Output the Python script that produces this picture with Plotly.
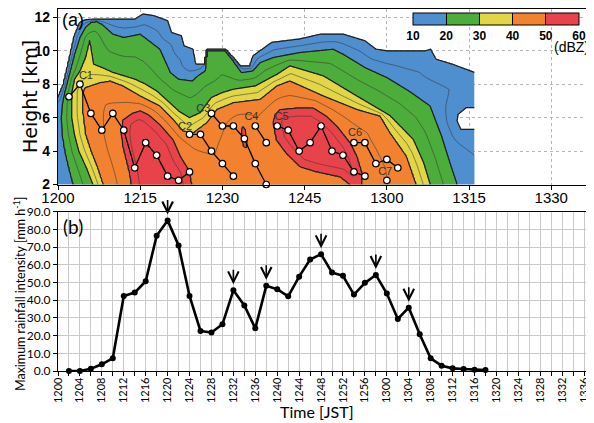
import numpy as np
import plotly.graph_objects as go

# ---------------- panel (a): reflectivity region outlines (time in min after 12:00, height km)
P10 = [(-10, -20), (-10, 7.2), (0, 7.2), (1, 8.0), (2, 9.4), (3, 10.9), (4, 11.7), (5, 11.85), (10, 11.9),
       (14, 11.9), (15.5, 12.2), (17.5, 12.1), (20, 11.8), (20.7, 11.1), (22.5, 10.9), (23, 10.3), (24.6, 10.1),
       (25.1, 9.2), (26.8, 9.2), (27.2, 10.1), (30.5, 10.1), (32.5, 9.4), (33.2, 9.1), (35, 9.1), (35.6, 9.7),
       (39, 10.5), (44, 10.7), (48, 11.0), (52, 11.0), (56, 10.6), (58, 10.1), (60, 10.0), (67, 10.0), (68, 10.1),
       (69, 9.5), (72, 9.2), (76.1, 8.7), (90, 8.7), (90, 6.6), (74.5, 6.6), (73.0, 6.2), (72.8, 5.8), (73.5, 5.3),
       (90, 5.3), (90, -20)]
P20 = [(3.6, -20), (2.8, 2.0), (2.0, 3.0), (1.3, 4.0), (0.8, 5.0), (0.65, 6.0), (0.8, 6.8), (1.2, 7.5), (2, 8.5),
       (3, 9.8), (4, 10.8), (5, 11.4), (6, 11.7), (7, 11.75), (8, 11.6), (10, 11.0), (12, 10.8), (15, 11.0),
       (18.6, 10.1), (20.5, 8.7), (22, 8.3), (24.5, 8.2), (25.5, 8.5), (26.8, 8.8), (27.1, 10.0), (30.5, 10.0),
       (32, 9.4), (33.5, 8.7), (35.5, 8.8), (36.9, 9.3), (39.3, 9.6), (44.2, 9.9), (50.2, 10.1), (52, 9.8),
       (56, 9.0), (60, 8.4), (64, 7.6), (67.9, 6.7), (70, 4.9), (71.5, 3.3), (72.8, 2.0), (74, -20)]
P30 = [(7, -20), (6.4, 2.0), (5.2, 3.0), (3.8, 4.0), (3.0, 5.0), (2.5, 6.0), (2.5, 7.5), (3, 8.3), (4, 8.8),
       (5, 9.6), (5.8, 10.7), (6.5, 9.2), (8, 9.0), (10, 8.7), (12, 8.5), (14, 8.3), (16, 8.0), (18, 7.6), (20, 7.0),
       (22, 6.4), (24, 6.0), (26, 6.3), (28, 7.2), (30, 7.5), (32, 7.7), (36, 7.9), (40, 8.6), (42.3, 9.1),
       (48.4, 8.5), (54.5, 7.3), (60.6, 6.1), (62.4, 5.5), (64.8, 4.7), (66.7, 3.3), (67.9, 2.0), (69, -20)]
P40 = [(9, -20), (8.2, 2.0), (7.2, 3.0), (6.0, 4.0), (5.0, 5.0), (4.5, 6.3), (4.5, 7.5), (4.9, 7.8), (7.7, 8.1),
       (9.5, 8.2), (11.9, 7.9), (15, 7.3), (18.6, 6.7), (21, 5.9), (22.8, 5.2), (24.7, 5.1), (27.1, 5.7), (29, 6.5),
       (32, 6.9), (36.9, 7.1), (39.9, 7.9), (42.3, 8.2), (48.4, 7.3), (54.5, 6.5), (58.8, 6.1), (60.6, 5.1),
       (63.6, 3.7), (65.4, 2.0), (66.5, -20)]
R1 = [(13.8, -20), (13.4, 2.0), (13.1, 2.67), (12.5, 3.47), (11.9, 4.27), (11.6, 5.07), (11.9, 5.87),
      (13.7, 6.27), (15.0, 6.4), (16.5, 6.17), (18.6, 5.57), (21, 4.67), (22.3, 3.67), (23.8, 2.87), (24.3, 2.07),
      (24.5, -20)]
R2 = [(39.6, 6.17), (40.5, 6.47), (43.6, 6.57), (46.6, 6.57), (49, 6.07), (50.9, 5.47), (53.3, 4.47),
      (54.5, 3.67), (55.4, 2.67), (55.3, 2.0), (55.5, -20), (53.5, -20), (53.3, 2.0), (51.5, 2.47), (47.2, 2.77),
      (44.2, 3.07), (41.7, 3.87), (39.9, 4.67), (39.3, 5.67)]
R3 = [(33.5, 5.2), (33.7, 5.45), (34.1, 5.3), (34.4, 4.6), (34.3, 4.2), (33.9, 4.3), (33.5, 4.8)]

dbz_levels = [10, 20, 30, 40, 50, 60]
dbz_colors = ["#4f8fd0", "#4cad3b", "#e3d646", "#f2822f", "#e8424a"]

# convective cell tracks
cells = {
    "C1": ([2, 4, 6, 8, 10, 12, 14, 16, 18, 20, 22, 24], [7.25, 8.0, 6.25, 5.25, 6.25, 5.25, 3.0, 4.5, 3.75, 2.5, 2.25, 2.75]),
    "C2": ([24, 26, 28, 30, 32], [5.0, 5.0, 4.0, 3.25, 2.5]),
    "C3": ([28, 30, 32, 34, 36, 38], [6.25, 5.5, 5.5, 4.75, 3.25, 2.0]),
    "C4": ([36, 38], [5.5, 4.5]),
    "C5": ([40, 42, 44, 46, 48, 50, 52, 54, 56], [5.5, 5.25, 4.0, 4.5, 5.5, 4.0, 3.75, 2.75, 2.5]),
    "C6": ([54, 56, 58, 60, 62], [4.5, 4.5, 3.25, 3.5, 3.0]),
    "C7": ([60], [2.25]),
}
cell_label_t = [5.1, 23.2, 26.5, 35.3, 40.8, 54.2, 59.7]
cell_label_h = [8.45, 5.45, 6.5, 6.0, 6.05, 5.05, 2.75]

top_tickvals = [0, 15, 30, 45, 60, 75, 90]
top_ticktext = ["1200", "1215", "1230", "1245", "1300", "1315", "1330"]

# ---------------- panel (b): maximum rainfall intensity
rain_t = [2, 4, 6, 8, 10, 12, 14, 16, 18, 20, 22, 24, 26, 28, 30, 32, 34, 36, 38, 40, 42, 44, 46, 48, 50,
          52, 54, 56, 58, 60, 62, 64, 66, 68, 70, 72, 74, 76, 78]
rain = [0.0, 0.0, 1.3, 3.8, 7.2, 42.4, 44.3, 50.7, 76.4, 85.1, 70.9, 42.4, 22.6, 21.8, 26.4, 45.6, 37.0, 24.1,
        48.1, 46.2, 42.2, 53.3, 63.0, 66.0, 55.6, 53.8, 43.2, 49.8, 54.3, 43.8, 29.4, 35.8, 20.8, 7.2, 3.0,
        1.5, 1.1, 0.7, 0.5]
arrow_t = [20, 32, 38, 48, 58, 64]
bottom_tickvals = list(range(0, 97, 2))
bottom_ticktext = [f"{12 + v // 60}{v % 60:02d}" if v % 4 == 0 else "" for v in bottom_tickvals]

# ---------------- build reflectivity field from outlines
PX_T, PX_H = 5.48, 16.65
tt = np.arange(0, 76.05, 0.25)
hh = np.arange(2, 12.501, 0.05)
T, H = np.meshgrid(tt, hh)
PX, PY = T * PX_T, H * PX_H


def poly_field(poly):
    xs = np.array([p[0] for p in poly]) * PX_T
    ys = np.array([p[1] for p in poly]) * PX_H
    n = len(xs)
    inside = np.zeros(PX.shape, bool)
    dmin = np.full(PX.shape, np.inf)
    for i in range(n):
        x1, y1, x2, y2 = xs[i], ys[i], xs[(i + 1) % n], ys[(i + 1) % n]
        dx, dy = x2 - x1, y2 - y1
        L2 = dx * dx + dy * dy
        u = np.clip(((PX - x1) * dx + (PY - y1) * dy) / L2, 0, 1) if L2 > 0 else 0
        dmin = np.minimum(dmin, np.hypot(PX - (x1 + u * dx), PY - (y1 + u * dy)))
        if dy != 0:
            cond = (y1 > PY) != (y2 > PY)
            xint = x1 + (PY - y1) * dx / dy
            inside ^= cond & (PX < xint)
    return inside, dmin


regions = {10: [P10], 20: [P20], 30: [P30], 40: [P40], 50: [R1, R2, R3]}
ins, dist = {}, {}
for L, plist in regions.items():
    a = np.zeros(PX.shape, bool)
    d = np.full(PX.shape, np.inf)
    for p in plist:
        i_, d_ = poly_field(p)
        a |= i_
        d = np.minimum(d, d_)
    ins[L], dist[L] = a, d

Z = 10 - np.minimum(dist[10], 30) / 3.0
for L in [10, 20, 30, 40]:
    m = ins[L] & ~ins[L + 10]
    Z[m] = L + 10 * dist[L][m] / (dist[L][m] + dist[L + 10][m])
m = ins[50]
Z[m] = 50 + 10 * dist[50][m] / (dist[50][m] + 8)
Z = np.round(Z, 2)

# stepped colour scale for contour fill (levels 10..55 step 5)
bg = "rgba(255,255,255,0)"
cs_fill = [[0, bg], [0.05, bg], [0.05, dbz_colors[0]], [0.25, dbz_colors[0]], [0.25, dbz_colors[1]],
           [0.45, dbz_colors[1]], [0.45, dbz_colors[2]], [0.65, dbz_colors[2]], [0.65, dbz_colors[3]],
           [0.85, dbz_colors[3]], [0.85, dbz_colors[4]], [1, dbz_colors[4]]]
cs_bar = []
for k, c in enumerate(dbz_colors):
    cs_bar += [[k / 5, c], [(k + 1) / 5, c]]

fig = go.Figure()
fig.add_trace(go.Contour(x=tt, y=hh, z=Z, xaxis="x", yaxis="y", autocontour=False,
                         contours=dict(start=10, end=55, size=5, coloring="fill", showlines=True),
                         colorscale=cs_fill, showscale=False, line=dict(color="#3a3a3a", width=0.6, smoothing=1),
                         hoverinfo="skip"))
fig.add_trace(go.Contour(x=tt, y=hh, z=Z, xaxis="x", yaxis="y", autocontour=False,
                         contours=dict(start=10, end=50, size=10, coloring="none", showlines=True),
                         showscale=False, line=dict(color="#202020", width=1.2, smoothing=1), hoverinfo="skip"))
# colour bar carrier (outside the visible range)
fig.add_trace(go.Heatmap(x=[200, 201], y=[5, 6], z=[[10, 60], [10, 60]], xaxis="x", yaxis="y", zmin=10, zmax=60,
                         colorscale=cs_bar, hoverinfo="skip",
                         colorbar=dict(orientation="h", lenmode="pixels", len=166, thickness=12,
                                       x=(496 - 58) / 536, xanchor="center", y=(371 - 13) / 362, yanchor="top",
                                       xpad=0, ypad=0, outlinewidth=1, outlinecolor="black",
                                       tickvals=dbz_levels, ticks="inside", ticklen=12, tickwidth=1,
                                       tickcolor="black", ticklabeloverflow="allow",
                                       tickfont=dict(family="Liberation Sans Narrow, Liberation Sans", size=12,
                                                     color="black", weight="bold"))))
for name, (ct, chh) in cells.items():
    fig.add_trace(go.Scatter(x=ct, y=chh, xaxis="x", yaxis="y", mode="lines+markers", cliponaxis=False,
                             line=dict(color="black", width=1.3),
                             marker=dict(size=6.5, color="white", line=dict(color="black", width=1.2)),
                             hoverinfo="skip", showlegend=False))
fig.add_trace(go.Scatter(x=cell_label_t, y=cell_label_h, xaxis="x", yaxis="y", mode="text",
                         text=list(cells.keys()), textfont=dict(family="Liberation Sans", size=11, color="#333333"),
                         hoverinfo="skip", showlegend=False))

fig.add_trace(go.Scatter(x=rain_t, y=rain, xaxis="x2", yaxis="y2", mode="lines+markers",
                         line=dict(color="black", width=2.6), marker=dict(size=6, color="black"),
                         cliponaxis=False, hoverinfo="skip", showlegend=False))

annotations = []
for at in arrow_t:
    annotations.append(dict(x=at, y=rain[rain_t.index(at)], xref="x2", yref="y2", text="", showarrow=True,
                            ax=0, ay=-22, arrowhead=5, arrowsize=1.3, arrowwidth=1.6, arrowcolor="black",
                            standoff=6))


def px2paper(px, py):
    return (px - 58) / 536, (371 - py) / 362


for txt, (px, py), fnt, sz, ang in [
    ("Height [km]", (30, 97), "DejaVu Sans", 19, -90),
    ("Time [JST]", (317, 411), "Lato", 16, 0),
    ("Maximum rainfall intensity [mm h<sup>-1</sup>]", (19, 294), "Lato", 12.5, -90),
    ("(a)", (73, 20), "Liberation Sans", 18, 0),
    ("(b)", (73, 226), "Lato", 19, 0),
    ("(dBZ)", (571, 47), "Liberation Sans", 14, 0),
]:
    x_, y_ = px2paper(px, py)
    annotations.append(dict(x=x_, y=y_, xref="paper", yref="paper", text=txt, showarrow=False, textangle=ang,
                            xanchor="center", yanchor="middle", font=dict(family=fnt, size=sz, color="black")))

# the page body adds an 8 px offset, so the figure is 8 px smaller than the window
top_y0 = (371 - 184.5) / 362
fig.update_layout(
    width=586, height=415, margin=dict(l=50, r=0, t=1, b=52, autoexpand=False), paper_bgcolor="white",
    plot_bgcolor="white", showlegend=False, annotations=annotations,
    xaxis=dict(domain=[0, 1], range=[0, 97.8], anchor="y", tickvals=top_tickvals, ticktext=top_ticktext,
               ticks="outside", ticklen=4, tickcolor="black", showline=True, linecolor="black", linewidth=1.2,
               mirror=True, showgrid=True, gridcolor="#b5b5b5", griddash="dot", gridwidth=1, zeroline=False,
               automargin=False, ticklabelstandoff=-5,
               tickfont=dict(family="Liberation Sans", size=15, color="black")),
    yaxis=dict(domain=[top_y0, 1], range=[2, 12.5], anchor="x", tickvals=[2, 4, 6, 8, 10, 12], ticks="outside",
               ticklen=4, tickcolor="black", showline=True, linecolor="black", linewidth=1.2, showgrid=True,
               gridcolor="#b5b5b5", griddash="dot", zeroline=False, automargin=False,
               tickfont=dict(family="Liberation Sans", size=14, color="black", weight="bold")),
    xaxis2=dict(domain=[0, 1], range=[0, 97.8], anchor="y2", tickvals=bottom_tickvals, ticktext=bottom_ticktext,
                tickangle=-90, ticks="outside", ticklen=4, tickcolor="black", showline=True, linecolor="black",
                linewidth=1.2, mirror=True, showgrid=True, gridcolor="#c9c9c9", gridwidth=1, zeroline=False,
                automargin=False, ticklabelstandoff=-3, tickfont=dict(family="Lato", size=11, color="black")),
    yaxis2=dict(domain=[0, 0.44], range=[0, 90], anchor="x2", dtick=10, tickformat=".1f", ticks="outside",
                ticklen=4, tickcolor="black", showline=True, linecolor="black", linewidth=1.2, showgrid=True,
                gridcolor="#c9c9c9", zeroline=False, automargin=False,
                tickfont=dict(family="Lato", size=12, color="black")),
)
fig.write_html("out.html")
